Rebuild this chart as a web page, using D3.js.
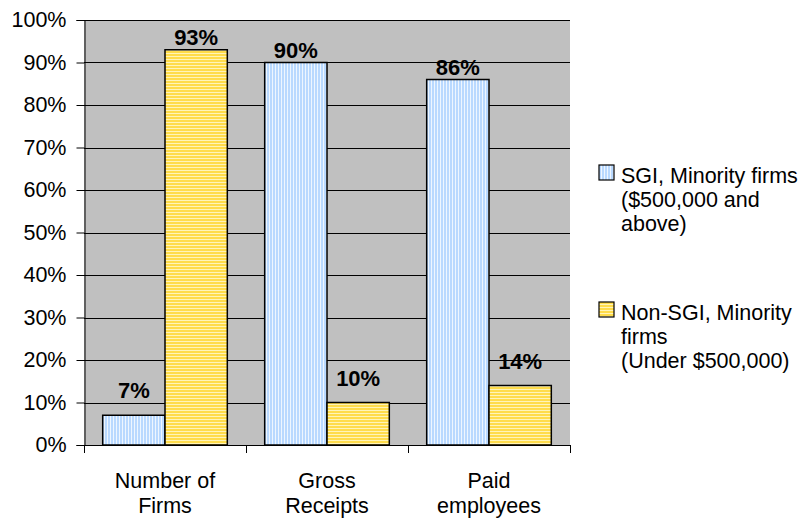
<!DOCTYPE html>
<html>
<head>
<meta charset="utf-8">
<script src="https://cdn.jsdelivr.net/npm/d3@7"></script>
<style>
  body { margin: 0; background: #fff; }
  svg { display: block; font-family: Arial, "Liberation Sans", sans-serif; }
</style>
</head>
<body>
<div id="chart"></div>
<script>
// data
const categories = ['Number of Firms', 'Gross Receipts', 'Paid employees'];
const seriesNames = ['SGI, Minority firms ($500,000 and above)', 'Non-SGI, Minority firms (Under $500,000)'];
const legendLines = [
    ['SGI, Minority firms', '($500,000 and', 'above)'],
    ['Non-SGI, Minority', 'firms', '(Under $500,000)']
];
const sgiValues = [7, 90, 86];
const nonSgiValues = [93, 10, 14];
const yTicks = [0, 10, 20, 30, 40, 50, 60, 70, 80, 90, 100];

const width = 805;
const height = 518;
const margin = { top: 20, right: 235, bottom: 73, left: 84 };

const svg = d3.select('#chart')
    .append('svg')
    .attr('width', width)
    .attr('height', height);

// stripe patterns
const defs = svg.append('defs');
const blue = defs.append('pattern')
    .attr('id', 'blueStripes')
    .attr('patternUnits', 'userSpaceOnUse')
    .attr('width', 3)
    .attr('height', 3);
blue.append('rect').attr('width', 3).attr('height', 3).attr('fill', '#b9d9ff');
blue.append('rect').attr('x', 2).attr('width', 1).attr('height', 3).attr('fill', '#eef6ff');

const yellow = defs.append('pattern')
    .attr('id', 'yellowStripes')
    .attr('patternUnits', 'userSpaceOnUse')
    .attr('width', 3)
    .attr('height', 3);
yellow.append('rect').attr('width', 3).attr('height', 3).attr('fill', '#ffdc4a');
yellow.append('rect').attr('y', 2).attr('width', 3).attr('height', 1).attr('fill', '#fff4b8');

const fills = ['url(#blueStripes)', 'url(#yellowStripes)'];

const rows = categories.map((c, i) => ({
    category: c,
    values: [sgiValues[i], nonSgiValues[i]]
}));

const x = d3.scaleBand()
    .domain(categories)
    .range([margin.left, width - margin.right])
    .padding(0);

const x1 = d3.scaleBand()
    .domain(d3.range(seriesNames.length))
    .range([0, x.bandwidth()])
    .paddingInner(0)
    .paddingOuter(0.3);

const y = d3.scaleLinear()
    .domain([0, 100])
    .range([height - margin.bottom, margin.top]);

// plot area
svg.append('rect')
    .attr('x', margin.left)
    .attr('y', margin.top)
    .attr('width', width - margin.left - margin.right)
    .attr('height', y(0) - margin.top)
    .attr('fill', '#c0c0c0');

// gridlines
svg.append('g')
    .selectAll('line')
    .data(yTicks)
    .join('line')
    .attr('x1', margin.left)
    .attr('x2', width - margin.right)
    .attr('y1', d => Math.round(y(d)) + 0.5)
    .attr('y2', d => Math.round(y(d)) + 0.5)
    .attr('stroke', '#000')
    .attr('stroke-width', 1);

// y axis
const yAxis = svg.append('g')
    .attr('transform', `translate(${margin.left + 0.5},0)`)
    .call(d3.axisLeft(y).tickValues(yTicks).tickFormat(d => d + '%').tickSize(8).tickPadding(10));
yAxis.select('.domain').attr('stroke', '#000');
yAxis.selectAll('.tick line').attr('stroke', '#000');
yAxis.selectAll('.tick text')
    .attr('font-size', 21.5)
    .attr('font-family', 'Arial, "Liberation Sans", sans-serif')
    .attr('fill', '#000');

// bars
const groups = svg.append('g')
    .selectAll('g')
    .data(rows)
    .join('g')
    .attr('transform', d => `translate(${x(d.category)},0)`);

groups.selectAll('rect')
    .data(d => d.values.map((v, i) => ({ v, i })))
    .join('rect')
    .attr('x', d => x1(d.i))
    .attr('y', d => y(d.v))
    .attr('width', x1.bandwidth())
    .attr('height', d => y(0) - y(d.v))
    .attr('fill', d => fills[d.i])
    .attr('stroke', '#000')
    .attr('stroke-width', 1.5);

// value labels
groups.selectAll('text')
    .data(d => d.values.map((v, i) => ({ v, i })))
    .join('text')
    .attr('x', d => x1(d.i) + x1.bandwidth() / 2)
    .attr('y', d => y(d.v) - (d.v > 50 ? 5 : 17))
    .attr('text-anchor', 'middle')
    .attr('font-size', 22)
    .attr('font-weight', 'bold')
    .text(d => d.v + '%');

// x axis
const xAxisY = y(0);
svg.append('line')
    .attr('x1', margin.left)
    .attr('x2', width - margin.right)
    .attr('y1', xAxisY + 0.5)
    .attr('y2', xAxisY + 0.5)
    .attr('stroke', '#000');

const boundaries = categories.map(c => x(c)).concat([width - margin.right]);
svg.append('g')
    .selectAll('line')
    .data(boundaries)
    .join('line')
    .attr('x1', d => Math.round(d) + 0.5)
    .attr('x2', d => Math.round(d) + 0.5)
    .attr('y1', xAxisY)
    .attr('y2', xAxisY + 8)
    .attr('stroke', '#000');

svg.append('g')
    .selectAll('text')
    .data(categories)
    .join('text')
    .attr('text-anchor', 'middle')
    .attr('font-size', 21.5)
    .attr('transform', d => `translate(${x(d) + x.bandwidth() / 2},${xAxisY + 43})`)
    .each(function(d) {
        const cut = d.lastIndexOf(' ');
        const lines = [d.slice(0, cut), d.slice(cut + 1)];
        d3.select(this).selectAll('tspan')
            .data(lines)
            .join('tspan')
            .attr('x', 0)
            .attr('dy', (l, i) => i === 0 ? 0 : 25)
            .text(l => l);
    });

// legend
const legendTop = [165, 302];
const legend = svg.append('g')
    .selectAll('g')
    .data(seriesNames)
    .join('g')
    .attr('transform', (d, i) => `translate(599,${legendTop[i]})`);

legend.append('rect')
    .attr('width', 15)
    .attr('height', 15)
    .attr('fill', (d, i) => fills[i])
    .attr('stroke', '#000')
    .attr('stroke-width', 1.2);

legend.append('text')
    .attr('font-size', 21.5)
    .each(function(d, i) {
        d3.select(this).selectAll('tspan')
            .data(legendLines[i])
            .join('tspan')
            .attr('x', 22)
            .attr('y', (l, j) => 18 + j * 24)
            .text(l => l);
    });
</script>
</body>
</html>
